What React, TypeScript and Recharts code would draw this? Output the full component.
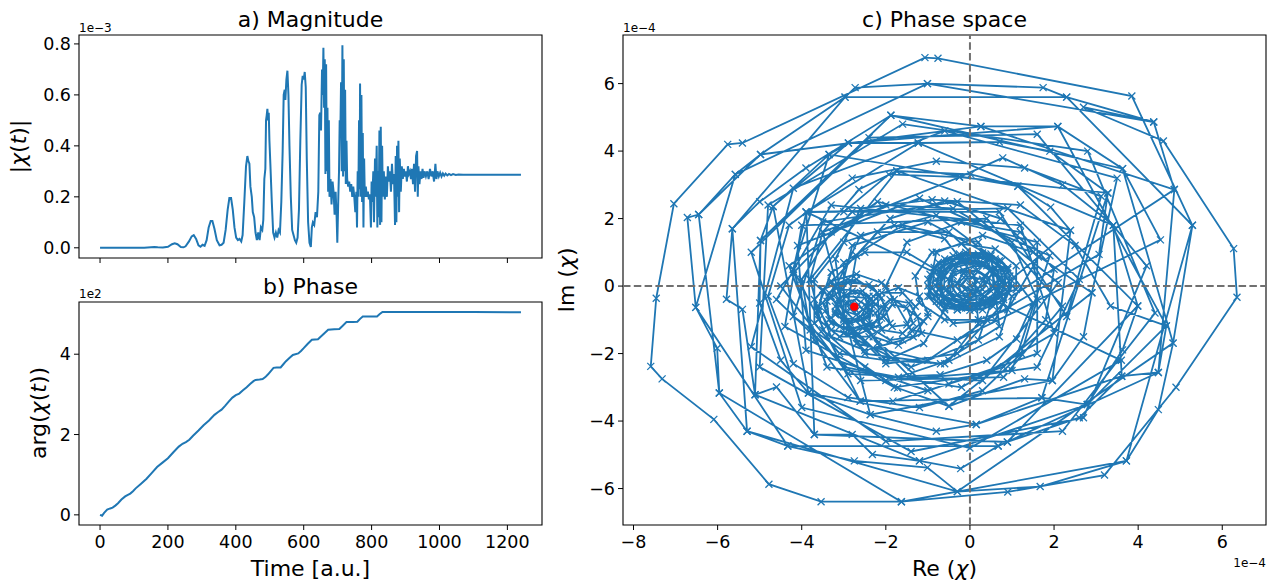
import {
  ComposedChart,
  Line,
  LineChart,
  ReferenceArea,
  ReferenceDot,
  ReferenceLine,
  XAxis,
  YAxis,
} from "recharts";

// a) |chi(t)| in units of 1e-3
const magnitude: [number, number][] = [
  [0, 0], [50, 0], [100, 0], [130, 0.0005], [150, 0.002], [160, 0.003], [170, 0.002], [185, 0.001],
  [200, 0.004], [212, 0.014], [220, 0.018], [228, 0.014], [238, 0.003], [246, 0.002], [252, 0.006],
  [262, 0.025], [270, 0.045], [276, 0.05], [283, 0.035], [290, 0.01], [296, 0.004], [302, 0.012],
  [308, 0.008], [314, 0.03], [320, 0.08], [326, 0.105], [331, 0.105], [337, 0.075], [344, 0.03],
  [352, 0.01], [358, 0.012], [364, 0.02], [370, 0.07], [376, 0.15], [381, 0.195], [386, 0.195],
  [391, 0.15], [396, 0.08], [401, 0.04], [406, 0.03], [411, 0.035], [416, 0.025], [420, 0.05],
  [425, 0.18], [430, 0.32], [434, 0.36], [437, 0.34], [440, 0.33], [443, 0.24], [447, 0.2],
  [450, 0.14], [454, 0.12], [458, 0.06], [462, 0.03], [466, 0.06], [470, 0.03], [474, 0.08],
  [478, 0.07], [481, 0.11], [484, 0.27], [487, 0.31], [489, 0.5], [491, 0.52], [493, 0.545],
  [495, 0.5], [497, 0.53], [499, 0.42], [502, 0.32], [506, 0.18], [510, 0.06], [514, 0.04],
  [518, 0.06], [522, 0.04], [526, 0.07], [530, 0.06], [534, 0.18], [538, 0.38], [541, 0.6],
  [544, 0.62], [546, 0.58], [549, 0.66], [552, 0.695], [555, 0.6], [558, 0.4], [562, 0.2],
  [566, 0.07], [570, 0.05], [574, 0.03], [578, 0.02], [582, 0.04], [586, 0.15], [590, 0.42],
  [594, 0.64], [597, 0.675], [600, 0.66], [603, 0.69], [606, 0.63], [609, 0.35], [613, 0.1],
  [617, 0.02], [621, 0.003], [624, 0.08], [627, 0.1], [631, 0.09], [635, 0.14], [639, 0.12],
  [643, 0.22], [646, 0.52], [649, 0.53], [651, 0.46], [654, 0.7], [656, 0.6], [658, 0.785],
  [660, 0.55], [662, 0.74], [664, 0.29], [666, 0.72], [668, 0.3], [670, 0.55], [672, 0.22],
  [674, 0.5], [676, 0.2], [679, 0.27], [682, 0.17], [685, 0.26], [688, 0.22], [691, 0.13],
  [694, 0.22], [697, 0.12], [699, 0.02], [702, 0.2], [704, 0.3], [706, 0.5], [708, 0.45],
  [710, 0.65], [712, 0.3], [714, 0.795], [716, 0.28], [718, 0.74], [720, 0.3], [722, 0.62],
  [724, 0.25], [726, 0.42], [728, 0.27], [731, 0.24], [734, 0.26], [737, 0.22], [740, 0.25],
  [743, 0.2], [746, 0.24], [749, 0.2], [752, 0.14], [755, 0.22], [757, 0.08], [759, 0.3],
  [761, 0.2], [763, 0.5], [765, 0.23], [766, 0.645], [768, 0.2], [770, 0.6], [772, 0.18],
  [774, 0.45], [776, 0.08], [778, 0.35], [780, 0.2], [783, 0.24], [786, 0.2], [789, 0.22],
  [792, 0.19], [795, 0.21], [798, 0.08], [800, 0.26], [802, 0.18], [805, 0.3], [807, 0.1],
  [810, 0.35], [812, 0.2], [815, 0.4], [817, 0.08], [819, 0.3], [821, 0.12], [823, 0.46],
  [825, 0.09], [827, 0.475], [829, 0.1], [831, 0.4], [833, 0.2], [836, 0.3], [839, 0.19],
  [842, 0.28], [845, 0.2], [848, 0.32], [851, 0.26], [854, 0.3], [857, 0.22], [860, 0.33],
  [863, 0.25], [866, 0.29], [869, 0.09], [871, 0.36], [873, 0.1], [875, 0.4], [877, 0.2],
  [879, 0.42], [881, 0.14], [883, 0.35], [886, 0.22], [889, 0.32], [892, 0.27], [895, 0.31],
  [898, 0.28], [901, 0.3], [904, 0.26], [907, 0.32], [910, 0.29], [913, 0.3], [916, 0.27],
  [919, 0.31], [922, 0.25], [925, 0.33], [928, 0.22], [931, 0.36], [934, 0.38], [936, 0.2],
  [938, 0.32], [941, 0.25], [944, 0.3], [947, 0.27], [950, 0.31], [953, 0.275], [956, 0.3],
  [960, 0.28], [964, 0.3], [968, 0.27], [972, 0.31], [976, 0.28], [980, 0.3], [984, 0.26],
  [988, 0.33], [991, 0.27], [994, 0.3], [998, 0.28], [1002, 0.295], [1006, 0.28], [1010, 0.292],
  [1014, 0.283], [1018, 0.291], [1023, 0.284], [1028, 0.29], [1034, 0.285], [1040, 0.289],
  [1048, 0.286], [1056, 0.288], [1070, 0.287], [1100, 0.287], [1150, 0.287], [1200, 0.287],
  [1240, 0.287],
];

// b) unwrapped arg(chi(t)) in units of 1e2
const phase: [number, number][] = [
  [0, 0], [6, -0.02], [12, 0.05], [21, 0.13], [30, 0.16], [37, 0.18], [45, 0.23], [53, 0.29],
  [63, 0.38], [74, 0.46], [82, 0.5], [89, 0.53], [97, 0.59], [105, 0.66], [120, 0.77], [137, 0.9],
  [152, 1.04], [168, 1.19], [184, 1.3], [200, 1.41], [216, 1.56], [232, 1.7], [243, 1.77],
  [253, 1.81], [263, 1.87], [274, 1.97], [290, 2.1], [305, 2.23], [321, 2.35], [337, 2.49],
  [348, 2.56], [358, 2.62], [369, 2.72], [379, 2.82], [390, 2.92], [400, 2.98], [410, 3.02],
  [421, 3.1], [432, 3.18], [442, 3.26], [452, 3.33], [458, 3.36], [470, 3.37], [479, 3.38],
  [487, 3.43], [495, 3.5], [503, 3.58], [511, 3.66], [520, 3.67], [532, 3.67], [540, 3.75],
  [547, 3.82], [557, 3.9], [568, 3.98], [584, 4.02], [592, 4.08], [600, 4.15], [612, 4.26],
  [624, 4.36], [642, 4.37], [657, 4.49], [672, 4.61], [690, 4.62], [705, 4.63], [715, 4.71],
  [726, 4.8], [745, 4.8], [758, 4.81], [766, 4.88], [774, 4.94], [795, 4.94], [816, 4.94],
  [824, 5.0], [832, 5.05], [900, 5.05], [1000, 5.05], [1100, 5.05], [1240, 5.045],
];

// c) trajectory (Re, Im) in units of 1e-4
const phaseSpace: [number, number][] = [
  // slow start around the origin
  [0, 0], [0.12, 0.04], [0.16, 0.16], [0.05, 0.26], [-0.1, 0.2], [-0.18, 0.05], [-0.12, -0.1], [0.02, -0.16], [0.18, -0.08],
  [0.35, 0.06], [0.34, 0.3], [0.15, 0.46], [-0.15, 0.46], [-0.4, 0.3], [-0.45, 0], [-0.3, -0.25], [0, -0.35], [0.3, -0.24],
  [0.55, 0], [0.55, 0.38], [0.3, 0.62], [-0.05, 0.72], [-0.4, 0.6], [-0.6, 0.3], [-0.62, -0.08], [-0.4, -0.36], [-0.05, -0.46], [0.3, -0.36],
  [0.8, 0.15], [0.68, 0.6], [0.35, 0.85], [-0.1, 0.92], [-0.55, 0.75], [-0.85, 0.4], [-0.9, -0.05], [-0.7, -0.45], [-0.3, -0.62], [0.15, -0.6], [0.6, -0.45],
  [0.7, -0.05], [0.62, 0.35], [0.4, 0.6], [0, 0.68], [-0.35, 0.55], [-0.52, 0.2], [-0.45, -0.2], [-0.15, -0.4], [0.25, -0.38], [0.5, -0.15],
  [0.45, 0.25], [0.2, 0.45], [-0.15, 0.4], [-0.3, 0.1], [-0.2, -0.2], [0.1, -0.25],
  [0.5, 0.5], [0, 0.8], [-0.6, 0.5], [-0.75, -0.1], [-0.4, -0.55], [0.2, -0.6], [0.7, -0.2], [0.65, 0.45], [0.15, 0.75],
  [-0.45, 0.65], [-0.8, 0.2], [-0.6, -0.35], [-0.05, -0.6], [0.5, -0.45], [0.75, 0.1], [0.4, 0.7], [-0.2, 0.8], [-0.7, 0.35],
  [-0.7, -0.3], [-0.2, -0.65], [0.4, -0.5], [0.85, -0.1], [0.6, 0.55], [0.1, 0.6], [-0.4, 0.4], [-0.55, -0.1], [-0.25, -0.5],
  [0.3, -0.55], [0.75, -0.3], [0.85, 0.35], [0.45, 0.85], [-0.15, 0.9], [-0.65, 0.6], [-0.8, 0], [-0.5, -0.5], [0.1, -0.7],
  [0.9, 0.55], [0.5, 0.95], [-0.1, 1], [-0.6, 0.8], [-0.95, 0.35], [-0.95, -0.15], [-0.65, -0.5], [-0.1, -0.65], [0.45, -0.55], [0.8, -0.25],
  [0.3, 0.2], [-0.1, 0.3], [-0.35, 0], [-0.1, -0.3], [0.3, -0.1],
  [0.7, 0.75], [0.2, 0.95], [-0.4, 0.9], [-0.85, 0.55], [-1, 0], [-0.8, -0.45], [-0.3, -0.7], [0.3, -0.7], [0.8, -0.4], [1, 0.15],
  [0.9, -0.2], [0.95, 0.3], [0.75, 0.75], [0.3, 0.98], [-0.25, 0.95], [-0.75, 0.7], [-1, 0.2], [-0.95, -0.3], [-0.6, -0.65], [0, -0.72], [0.55, -0.6],
  [0.85, 0.05], [0.8, 0.5], [0.5, 0.8], [0.05, 0.85], [-0.4, 0.78], [-0.7, 0.5], [-0.78, 0.1], [-0.6, -0.3], [-0.2, -0.5], [0.3, -0.5], [0.65, -0.3],
  [1.1, -0.1], [1.1, 0.6], [0.6, 1.1], [-0.2, 1.25], [-0.9, 1], [-1.3, 0.3], [-1.2, -0.5], [-0.6, -1], [0.2, -1], [0.9, -0.7],
  // growing bursts
  [1.63, 0.86], [0.73, 2], [-0.6, 2.52], [-1.9, 2], [-2.7, 0.9], [-2.9, -0.5], [-2.2, -1.7], [-1.45, -2.67], [-0.71, -2.63], [0.4, -2.2], [1.11, -1.57], [1.5, -0.5],
  [0.9, 0.5], [0.2, 0.9], [-0.5, 0.6], [-0.8, -0.2], [-0.3, -0.7], [0.4, -0.4],
  [2.39, 1.65], [1.92, 2.34], [1.14, 2.96], [0.02, 3.31], [-1.74, 3.41], [-2.64, 2.86], [-3.5, 1.6], [-3.8, 0.2], [-3.5, -1.3], [-2.5, -2.4], [-1.72, -3.02], [-0.5, -3.56], [1.3, -2.75], [1.96, -2.8], [2.7, -1.5], [2.9, -0.2],
  [1.5, 1], [0.3, 1.5], [-0.8, 1], [-1, -0.3], [-0.4, -1.1], [0.6, -1], [1, 0],
  [0.6, 0.8], [-0.8, 2.1], [-2.6, 1.5], [-3.3, -0.3], [-2.5, -2], [-0.7, -2.3], [0.7, -1.2], [0.5, 0.9], [-1, 1.9],
  [-2.8, 1.2], [-3.2, -0.8], [-2, -2.3], [-0.3, -2], [0.8, -0.5], [0.2, 1.3], [-1.6, 1.8], [-3, 0.7], [-3, -1.4],
  [-1.4, -2.4], [0.2, -1.6], [0.7, 0.2], [-0.5, 1.6], [-2.2, 1.6], [-3.3, 0.1], [-2.7, -1.7], [-1, -2.2], [0.4, -1],
  [3.07, 0.94], [3.28, 2.76], [1.9, 4], [0.7, 4.27], [-1.23, 4.24], [-2.89, 4.24], [-3.35, 3.9], [-4.68, 2.36], [-4.98, 1.35], [-5, -0.5], [-4.5, -2.2], [-3.84, -3.17], [-2.37, -3.81], [-0.8, -4.3], [0.15, -4.1], [1.71, -3.31], [2.79, -3.51], [3.63, -1.89], [3.99, -0.59],
  [3.41, 1.8], [2.2, 3], [0.78, 3.8], [-0.25, 3.23], [-1.93, 3.31], [-3, 2.2], [-3.89, 2.19], [-4.2, 0.5], [-3.7, -1.6], [-2.61, -3.41], [-1.83, -3.41], [-0.5, -2.9], [0.8, -2.4], [1.8, -1], [2, 0.5], [1.2, 1.6], [-0.2, 1.9], [-1.5, 1.3], [-2, 0], [-1.4, -1.3], [-0.3, -1.6],
  [4.53, 1.37], [3.63, 3.48], [2.09, 4.73], [0.26, 4.73], [-1.88, 5.06], [-3.9, 3.5], [-5, 2.5], [-5.65, 1.7], [-5.79, -0.39], [-5.41, -0.69], [-5.11, -3.22], [-4.6, -2.99], [-3.7, -4.4], [-2.8, -4.4], [-2.32, -4.99], [-1.2, -5.18], [-0.22, -5.41], [0.67, -4.74], [0.89, -4.62], [2.6, -3.9], [3.61, -2.67], [4.48, -2.56], [4.67, -1.18], [3.34, -0.59],
  [2.5, 1.2], [1.2, 2.4], [-0.9, 2.56], [-2.6, 2.3], [-3.2, 0.8], [-3, -1], [-2, -2.2], [-0.6, -2.3], [0.7, -1.5], [1, -0.3],
  // largest orbits
  [4.86, 2.86], [4.37, 4.86], [2.3, 5.6], [1.74, 5.88], [-1.01, 6], [-2.73, 5.88], [-2.97, 5.6], [-4.98, 3.9], [-5.58, 3.31], [-6.45, 2.12], [-6.72, 2.03], [-6.52, -0.63], [-6.01, -1.84], [-5.96, -3.17], [-5.3, -4.3], [-4.33, -4.74], [-2.75, -5.18], [-1.01, -5.38], [-0.3, -6.09], [1.67, -5.94], [3.72, -5.18], [4.48, -3.66], [4.83, -1.69], [5.29, 1.8],
  [3.85, 5.63], [-0.76, 6.75], [-1.07, 6.77], [-5.41, 4.24], [-5.76, 4.2], [-7.04, 2.44], [-7.46, -0.36], [-7.59, -2.38], [-7.32, -2.75], [-6.09, -3.95], [-4.78, -5.87], [-3.54, -6.39], [-1.63, -6.39], [0.9, -6.1], [3.2, -5.6], [4.9, -3], [6.35, -0.33], [6.27, 1.11], [4.6, 4.3], [2.7, 5.3],
  // wide jumps while the amplitude beats
  [4.37, 4.86], [-1.01, 6], [-5.58, 3.31], [-6.52, -0.63], [-4.33, -4.74], [0.67, -4.74], [4.48, -2.56], [4.86, 2.86], [0.26, 4.73],
  [-4.98, 3.9], [-6.45, 2.12], [-5.96, -3.17], [-1.63, -6.39], [3.72, -5.18], [5.29, 1.8], [2.3, 5.6], [-2.97, 5.6], [-5.65, 1.7],
  [-5.3, -4.3], [-0.3, -6.09], [4.83, -1.69], [3.63, 3.48], [-1.88, 5.06], [-4.98, 1.35], [-5.11, -3.22], [-1.2, -5.18], [2.79, -3.51],
  [4.67, -1.18], [2.09, 4.73], [-2.89, 4.24], [-4.68, 2.36], [-3.84, -3.17], [0.15, -4.1], [3.61, -2.67], [3.41, 1.8], [-1.23, 4.24],
  [-3.89, 2.19], [-3.7, -4.4], [0.89, -4.62], [3.99, -0.59], [1.14, 2.96], [-3.35, 3.9], [-4.2, 0.5], [-2.61, -3.41], [1.71, -3.31],
  [3.28, 2.76], [-0.25, 3.23], [-3.5, 1.6], [-2.37, -3.81], [1.96, -2.8], [2.39, 1.65], [-1.74, 3.41], [-3.8, 0.2], [-0.5, -3.56], [2.9, -0.2],
  [3.5, 3.2], [-0.6, 4.6], [-4.2, 2.9], [-5.2, -1.8], [-2, -4.6], [2.2, -4.3], [4.4, -0.8], [2.8, 4], [-1.6, 4.8], [-4.8, 2.4],
  [-5, -2.4], [-1.4, -4.9], [2.7, -3.9], [4.2, 0.6], [1.6, 4.5], [-2.4, 4.4], [-5.2, 1], [-4, -3.6], [0, -4.8], [3.6, -2.2],
  [-3.9, 2.2], [0.9, 2.3], [2.6, 0.2], [1.6, -2.4], [-1.8, -3], [-4.4, -1.2], [-4, 1.8], [0.4, 2], [2.2, -0.6], [0.8, -2.7],
  [-2.6, -2.8], [-4.6, -0.4], [-3.3, 2.4], [1.2, 1.8], [2, -1.4], [-0.2, -3], [-3.4, -2.4], [-4.3, 0.6], [-2.2, 2.5], [1.6, 1.3],
  [1.6, -2], [-1, -3.1], [-3.9, -1.9], [-4.1, 1.2], [-1.2, 2.6], [1.9, 0.9], [1, -2.5], [-2, -2.8], [-4.2, -0.9], [-3.5, 1.9],
  [-0.3, 2.5], [2.1, 0.1], [0.3, -2.8], [-2.9, -2.6], [-4.5, 0], [-2.8, 2.2], [0.7, 2.2], [2.3, -0.9],
  // decay towards the final state
  [3.12, 2.66], [1.3, 3.5], [-0.8, 3.7], [-2.8, 3.2], [-4.3, 1.8], [-4.8, -0.3], [-4.2, -2.3], [-2.9, -3.3], [-1.2, -3.6], [0.3, -3.1], [1.22, -2], [1.6, -0.4], [1, 1.3], [-0.4, 2.3], [-2, 2.4], [-3.3, 1.6], [-4, 0.2], [-3.8, -1.3], [-3, -2.4], [-1.7, -2.7], [-0.5, -2.2], [0.2, -1.1], [0.1, 0.3], [-0.6, 1.4], [-1.8, 1.8], [-3, 1.3], [-3.7, 0.2], [-3.7, -1.1], [-3.1, -2], [-2, -2.2], [-1.1, -1.7], [-0.6, -0.7], [-0.7, 0.4], [-1.5, 1], [-2.5, 1], [-3.3, 0.4], [-3.6, -0.6], [-3.3, -1.5], [-2.5, -1.9], [-1.6, -1.6], [-1, -0.9],
  [-1, -0.8], [-1.2, -0.3], [-1.7, -0.05], [-2.3, -0.3], [-2.6, -0.9], [-2.3, -1.5], [-1.7, -1.75], [-1.15, -1.4],
  [-1.25, -0.9], [-1.45, -0.5], [-1.9, -0.4], [-2.25, -0.8], [-2.1, -1.3], [-1.6, -1.4], [-1.35, -1.1],
  [-1.5, -0.65], [-1.85, -0.55], [-2.05, -0.9], [-1.85, -1.2], [-1.5, -1.15],
  [-1.3, -0.6], [-1.6, -0.2], [-2.1, -0.2], [-2.45, -0.65], [-2.35, -1.25], [-1.9, -1.6], [-1.35, -1.5], [-1.1, -1.05],
  [-1.8, -0.4], [-2.1, 0.1], [-2.7, 0.35], [-3.3, 0.15], [-3.7, -0.4], [-3.6, -1], [-3.1, -1.5], [-2.4, -1.5], [-1.9, -1.1],
  [-2.1, -0.35], [-2.4, 0.05], [-2.9, 0.1], [-3.35, -0.2], [-3.45, -0.75], [-3.1, -1.2], [-2.55, -1.25], [-2.1, -0.95],
  [-2, -0.6], [-2.3, -0.05], [-2.9, 0.2], [-3.5, -0.1], [-3.6, -0.7], [-3.3, -1.3], [-2.7, -1.45], [-2.15, -1.15],
  [-2.2, -0.2], [-2.7, 0.2], [-3.2, 0], [-3.5, -0.5], [-3.3, -1.1], [-2.8, -1.35], [-2.3, -1.15], [-2.05, -0.65],
  [-2.25, -0.55], [-2.55, -0.15], [-3.05, -0.1], [-3.4, -0.45], [-3.35, -1], [-2.9, -1.3], [-2.4, -1.1],
  [-2.3, -0.45], [-2.6, -0.2], [-3, -0.25], [-3.2, -0.6], [-3, -0.95], [-2.6, -1], [-2.35, -0.8],
  [-2.5, -0.35], [-2.95, -0.3], [-3.2, -0.75], [-2.85, -1.05], [-2.45, -0.8],
  [-2.4, -0.3], [-2.8, -0.15], [-3.15, -0.4], [-3.2, -0.85], [-2.85, -1.1], [-2.45, -0.95], [-2.3, -0.6],
  [-2.5, -0.55], [-2.7, -0.38], [-2.95, -0.5], [-2.95, -0.75], [-2.7, -0.85], [-2.55, -0.7],
  [-2.65, -0.55], [-2.82, -0.5], [-2.85, -0.68], [-2.7, -0.72], [-2.75, -0.61],
];
const finalPoint = { re: -2.75, im: -0.61 };

const timeTicks = [0, 200, 400, 600, 800, 1000, 1200];
const magTicks = [0, 0.2, 0.4, 0.6, 0.8];
const phaseTicks = [0, 2, 4];
const reTicks = [-8, -6, -4, -2, 0, 2, 4, 6];
const imTicks = [-6, -4, -2, 0, 2, 4, 6];

const BLUE = "#1f77b4";
const FONT = "DejaVu Sans";
const tickStyle = { fill: "#000", fontSize: 17.5, fontFamily: FONT };
const signed = (v: number) => (v < 0 ? `\u2212${Math.abs(v)}` : `${v}`);

const tDomain: [number, number] = [-62, 1302];
const magDomain: [number, number] = [-0.04, 0.835];
const phaseDomain: [number, number] = [-0.2525, 5.3];
const reDomain: [number, number] = [-8.25, 7.04];
const imDomain: [number, number] = [-7.08, 7.44];

const xMark = (p: any) => {
  const { cx, cy, index } = p;
  if (cx == null || cy == null) return <g key={index} />;
  const s = 3.5;
  return (
    <path
      key={index}
      d={`M${cx - s},${cy - s}L${cx + s},${cy + s}M${cx - s},${cy + s}L${cx + s},${cy - s}`}
      stroke={BLUE}
      strokeWidth={1.3}
      fill="none"
    />
  );
};

export default function App() {
  const magData = magnitude.map(([t, v]) => ({ t, v }));
  const phaseData = phase.map(([t, v]) => ({ t, v }));
  const psData = phaseSpace.map(([re, im]) => ({ re, im }));

  return (
    <div
      style={{
        position: "absolute",
        left: 0,
        top: 0,
        width: 1277,
        height: 587,
        background: "#fff",
        fontFamily: FONT,
      }}
    >
      <div style={{ position: "absolute", left: 0, top: 0 }}>
        <LineChart width={560} height={270} data={magData} margin={{ top: 35, right: 18, bottom: 0, left: 0 }}>
          <XAxis
            dataKey="t"
            type="number"
            domain={tDomain}
            ticks={timeTicks}
            allowDataOverflow
            height={12}
            axisLine={false}
            tickLine={{ stroke: "#000" }}
            tickSize={5}
            tickFormatter={() => ""}
          />
          <YAxis
            type="number"
            domain={magDomain}
            ticks={magTicks}
            allowDataOverflow
            width={79}
            axisLine={false}
            tickLine={{ stroke: "#000" }}
            tickSize={5}
            tickMargin={3}
            tick={tickStyle}
            tickFormatter={(v: number) => v.toFixed(1)}
          />
          <ReferenceArea
            x1={tDomain[0]}
            x2={tDomain[1]}
            y1={magDomain[0]}
            y2={magDomain[1]}
            fill="none"
            stroke="#000"
            strokeWidth={1.1}
            ifOverflow="visible"
          />
          <Line dataKey="v" type="linear" stroke={BLUE} strokeWidth={2} dot={false} activeDot={false} isAnimationActive={false} />
        </LineChart>
      </div>

      <div style={{ position: "absolute", left: 0, top: 280 }}>
        <LineChart width={560} height={307} data={phaseData} margin={{ top: 22, right: 18, bottom: 32, left: 0 }}>
          <XAxis
            dataKey="t"
            type="number"
            domain={tDomain}
            ticks={timeTicks}
            allowDataOverflow
            height={30}
            axisLine={false}
            tickLine={{ stroke: "#000" }}
            tickSize={5}
            tickMargin={6}
            tick={tickStyle}
          />
          <YAxis
            type="number"
            domain={phaseDomain}
            ticks={phaseTicks}
            allowDataOverflow
            width={79}
            axisLine={false}
            tickLine={{ stroke: "#000" }}
            tickSize={5}
            tickMargin={3}
            tick={tickStyle}
          />
          <ReferenceArea
            x1={tDomain[0]}
            x2={tDomain[1]}
            y1={phaseDomain[0]}
            y2={phaseDomain[1]}
            fill="none"
            stroke="#000"
            strokeWidth={1.1}
            ifOverflow="visible"
          />
          <Line dataKey="v" type="linear" stroke={BLUE} strokeWidth={2} dot={false} activeDot={false} isAnimationActive={false} />
        </LineChart>
      </div>

      <div style={{ position: "absolute", left: 560, top: 0 }}>
        <ComposedChart width={717} height={587} data={psData} margin={{ top: 35, right: 11, bottom: 32, left: 0 }}>
          <XAxis
            dataKey="re"
            type="number"
            domain={reDomain}
            ticks={reTicks}
            allowDataOverflow
            height={30}
            axisLine={false}
            tickLine={{ stroke: "#000" }}
            tickSize={5}
            tickMargin={6}
            tick={tickStyle}
            tickFormatter={signed}
          />
          <YAxis
            type="number"
            domain={imDomain}
            ticks={imTicks}
            allowDataOverflow
            width={63}
            axisLine={false}
            tickLine={{ stroke: "#000" }}
            tickSize={5}
            tickMargin={3}
            tick={tickStyle}
            tickFormatter={signed}
          />
          <ReferenceArea
            x1={reDomain[0]}
            x2={reDomain[1]}
            y1={imDomain[0]}
            y2={imDomain[1]}
            fill="none"
            stroke="#000"
            strokeWidth={1.1}
            ifOverflow="visible"
          />
          <Line
            dataKey="im"
            type="linear"
            stroke={BLUE}
            strokeWidth={1.8}
            dot={xMark}
            activeDot={false}
            isAnimationActive={false}
          />
          <ReferenceLine x={0} stroke="#707070" strokeWidth={2} strokeDasharray="7.5 3.3" />
          <ReferenceLine y={0} stroke="#707070" strokeWidth={2} strokeDasharray="7.5 3.3" />
          <ReferenceDot x={finalPoint.re} y={finalPoint.im} r={4.2} fill="#ff0000" stroke="none" />
        </ComposedChart>
      </div>

      <svg
        width={1277}
        height={587}
        style={{ position: "absolute", left: 0, top: 0, pointerEvents: "none" }}
        fontFamily={FONT}
        fill="#000"
      >
        <text x={310.5} y={27} textAnchor="middle" fontSize={22}>a) Magnitude</text>
        <text x={310.5} y={294} textAnchor="middle" fontSize={22}>b) Phase</text>
        <text x={944.5} y={27} textAnchor="middle" fontSize={22}>c) Phase space</text>
        <text x={310.5} y={576} textAnchor="middle" fontSize={22}>Time [a.u.]</text>
        <text x={944.5} y={576} textAnchor="middle" fontSize={22}>
          Re (<tspan fontStyle="italic">χ</tspan>)
        </text>
        <text transform="translate(26,146.5) rotate(-90)" textAnchor="middle" fontSize={22}>
          |<tspan fontStyle="italic">χ</tspan>(<tspan fontStyle="italic">t</tspan>)|
        </text>
        <text transform="translate(46,413) rotate(-90)" textAnchor="middle" fontSize={22}>
          arg(<tspan fontStyle="italic">χ</tspan>(<tspan fontStyle="italic">t</tspan>))
        </text>
        <text transform="translate(574,280) rotate(-90)" textAnchor="middle" fontSize={22}>
          Im (<tspan fontStyle="italic">χ</tspan>)
        </text>
        <text x={79} y={32} fontSize={12}>1e−3</text>
        <text x={79} y={297.5} fontSize={12}>1e2</text>
        <text x={623} y={32} fontSize={12}>1e−4</text>
        <text x={1266} y={566.7} textAnchor="end" fontSize={12}>1e−4</text>
      </svg>
    </div>
  );
}
